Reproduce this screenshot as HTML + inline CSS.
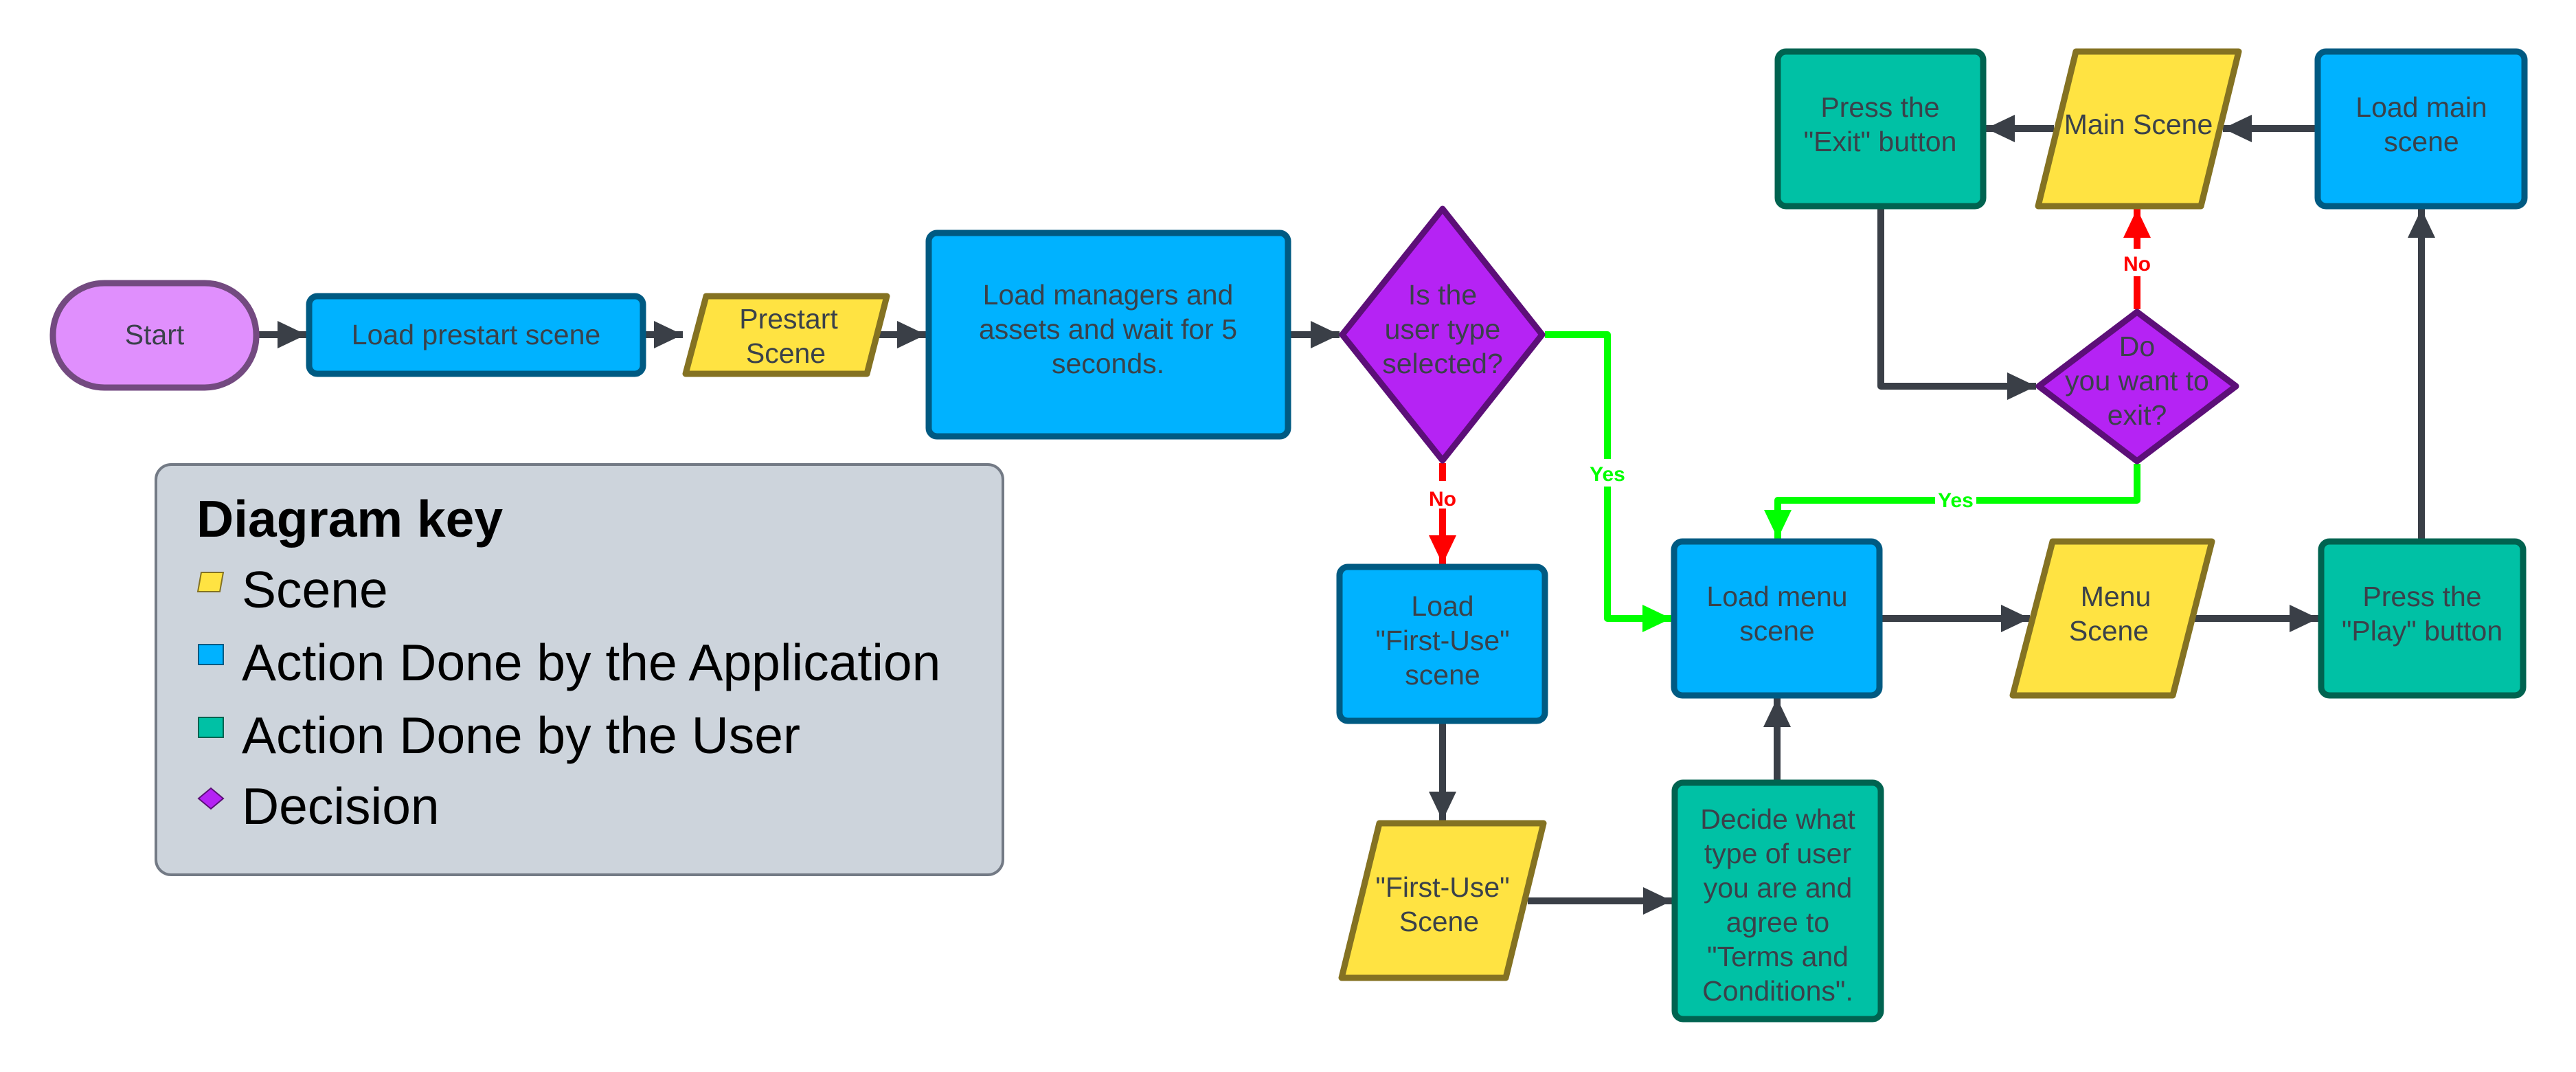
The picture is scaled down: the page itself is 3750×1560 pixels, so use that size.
<!DOCTYPE html>
<html><head><meta charset="utf-8"><style>
html,body{margin:0;padding:0;background:#fff}
svg{display:block}
.t{font-family:"Liberation Sans",sans-serif;font-size:41px;fill:#3a414a;text-anchor:middle}
.k{font-family:"Liberation Sans",sans-serif;font-size:75px;fill:#000}
.lbl{font-family:"Liberation Sans",sans-serif;font-size:30px;font-weight:bold;text-anchor:middle}
.c{fill:none;stroke:#3a3f47;stroke-width:10;stroke-linejoin:round}
.b{fill:#00b2ff;stroke:#005a82;stroke-width:9}
.g{fill:#00c1a5;stroke:#006350;stroke-width:9}
.y{fill:#ffe342;stroke:#847222;stroke-width:9;stroke-linejoin:round}
.p{fill:#b523f4;stroke:#5c0f78;stroke-width:9;stroke-linejoin:round}
</style></head><body>
<svg width="3750" height="1560" viewBox="0 0 3750 1560" xmlns="http://www.w3.org/2000/svg">
<defs>
<marker id="ad" markerUnits="userSpaceOnUse" markerWidth="42" markerHeight="40" refX="42" refY="20" orient="auto"><path d="M0,0 L42,20 L0,40 Z" fill="#3a3f47"/></marker>
<marker id="ag" markerUnits="userSpaceOnUse" markerWidth="42" markerHeight="40" refX="42" refY="20" orient="auto"><path d="M0,0 L42,20 L0,40 Z" fill="#00ff00"/></marker>
<marker id="ar" markerUnits="userSpaceOnUse" markerWidth="42" markerHeight="40" refX="42" refY="20" orient="auto"><path d="M0,0 L42,20 L0,40 Z" fill="#ff0000"/></marker>
</defs>

<path class="c" d="M376,487 H446" marker-end="url(#ad)"/>
<path class="c" d="M940,487 H994" marker-end="url(#ad)"/>
<path class="c" d="M1266,487 H1348" marker-end="url(#ad)"/>
<path class="c" d="M1879,487 H1950" marker-end="url(#ad)"/>
<path d="M2249,487 H2340 V900 H2433" fill="none" stroke="#00ff00" stroke-width="10" stroke-linejoin="round" marker-end="url(#ag)"/>
<path d="M2100,674 V821" fill="none" stroke="#ff0000" stroke-width="10" marker-end="url(#ar)"/>
<path class="c" d="M2100,1053 V1194" marker-end="url(#ad)"/>
<path class="c" d="M2224,1311 H2434" marker-end="url(#ad)"/>
<path class="c" d="M2587,1135 V1016" marker-end="url(#ad)"/>
<path class="c" d="M2740,900 H2955" marker-end="url(#ad)"/>
<path class="c" d="M3195,900 H3375" marker-end="url(#ad)"/>
<path class="c" d="M3525,784 V304" marker-end="url(#ad)"/>
<path class="c" d="M3370,187 H3236" marker-end="url(#ad)"/>
<path class="c" d="M2990,187 H2891" marker-end="url(#ad)"/>
<path class="c" d="M2738,304 V562 H2964" marker-end="url(#ad)"/>
<path d="M3111,450 V304" fill="none" stroke="#ff0000" stroke-width="10" marker-end="url(#ar)"/>
<path d="M3111,675 V728 H2588 V784" fill="none" stroke="#00ff00" stroke-width="10" stroke-linejoin="round" marker-end="url(#ag)"/>

<rect x="2076" y="700" width="48" height="40" fill="#fff"/>
<text class="lbl" x="2100" y="736" fill="#ff0000">No</text>
<rect x="2310" y="668" width="60" height="40" fill="#fff"/>
<text class="lbl" x="2340" y="700" fill="#00ff00">Yes</text>
<rect x="2817" y="710" width="60" height="36" fill="#fff"/>
<text class="lbl" x="2847" y="738" fill="#00ff00">Yes</text>
<rect x="3087" y="362" width="48" height="40" fill="#fff"/>
<text class="lbl" x="3111" y="394" fill="#ff0000">No</text>

<rect x="77" y="412" width="296" height="152" rx="75" fill="#e08ffd" stroke="#734a80" stroke-width="9"/>
<text class="t" x="225" y="501">Start</text>

<rect class="b" x="450" y="431" width="486" height="113" rx="12"/>
<text class="t" x="693" y="501">Load prestart scene</text>

<polygon class="y" points="1028,431 1291,431 1262,544 998,544"/>
<text class="t" x="1148" y="478">Prestart</text>
<text class="t" x="1144" y="528">Scene</text>

<rect class="b" x="1352" y="339" width="523" height="296" rx="12"/>
<text class="t" x="1613" y="443">Load managers and</text>
<text class="t" x="1613" y="493">assets and wait for 5</text>
<text class="t" x="1613" y="543">seconds.</text>

<polygon class="p" points="2100,304 2245,487 2100,670 1954,487"/>
<text class="t" x="2100" y="443">Is the</text>
<text class="t" x="2100" y="493">user type</text>
<text class="t" x="2100" y="543">selected?</text>

<rect class="b" x="1950" y="825" width="299" height="224" rx="12"/>
<text class="t" x="2100" y="896">Load</text>
<text class="t" x="2100" y="946">"First-Use"</text>
<text class="t" x="2100" y="996">scene</text>

<polygon class="y" points="2008,1198 2247,1198 2192,1423 1953,1423"/>
<text class="t" x="2100" y="1305">"First-Use"</text>
<text class="t" x="2095" y="1355">Scene</text>

<rect class="g" x="2438" y="1139" width="300" height="344" rx="12"/>
<text class="t" x="2588" y="1206">Decide what</text>
<text class="t" x="2588" y="1256">type of user</text>
<text class="t" x="2588" y="1306">you are and</text>
<text class="t" x="2588" y="1356">agree to</text>
<text class="t" x="2588" y="1406">"Terms and</text>
<text class="t" x="2588" y="1456">Conditions".</text>

<rect class="b" x="2437" y="788" width="299" height="224" rx="12"/>
<text class="t" x="2587" y="882">Load menu</text>
<text class="t" x="2587" y="932">scene</text>

<polygon class="y" points="2988,788 3220,788 3163,1012 2930,1012"/>
<text class="t" x="3080" y="882">Menu</text>
<text class="t" x="3070" y="932">Scene</text>

<rect class="g" x="3379" y="788" width="294" height="224" rx="12"/>
<text class="t" x="3526" y="882">Press the</text>
<text class="t" x="3526" y="932">"Play" button</text>

<polygon class="p" points="3111,454 3255,562 3111,671 2968,562"/>
<text class="t" x="3111" y="518">Do</text>
<text class="t" x="3111" y="568">you want to</text>
<text class="t" x="3111" y="618">exit?</text>

<rect class="g" x="2588" y="75" width="299" height="225" rx="12"/>
<text class="t" x="2737" y="170">Press the</text>
<text class="t" x="2737" y="220">"Exit" button</text>

<polygon class="y" points="3022,75 3259,75 3204,300 2967,300"/>
<text class="t" x="3113" y="195">Main Scene</text>

<rect class="b" x="3374" y="75" width="301" height="225" rx="12"/>
<text class="t" x="3525" y="170">Load main</text>
<text class="t" x="3525" y="220">scene</text>

<rect x="227" y="676" width="1233" height="597" rx="22" fill="#cdd4dc" stroke="#737a85" stroke-width="4"/>
<text class="k" x="286" y="781" font-weight="bold" font-size="74">Diagram key</text>
<polygon points="293,833 325,833 320,861 288,861" fill="#ffe342" stroke="#847222" stroke-width="2"/>
<text class="k" x="352" y="884">Scene</text>
<rect x="289" y="938" width="36" height="29" fill="#00b2ff" stroke="#005a82" stroke-width="2"/>
<text class="k" x="352" y="990">Action Done by the Application</text>
<rect x="289" y="1044" width="36" height="29" fill="#00c1a5" stroke="#006350" stroke-width="2"/>
<text class="k" x="352" y="1096">Action Done by the User</text>
<polygon points="307,1147 325,1162 307,1177 289,1162" fill="#b523f4" stroke="#5c0f78" stroke-width="2"/>
<text class="k" x="352" y="1199">Decision</text>
</svg>
</body></html>
